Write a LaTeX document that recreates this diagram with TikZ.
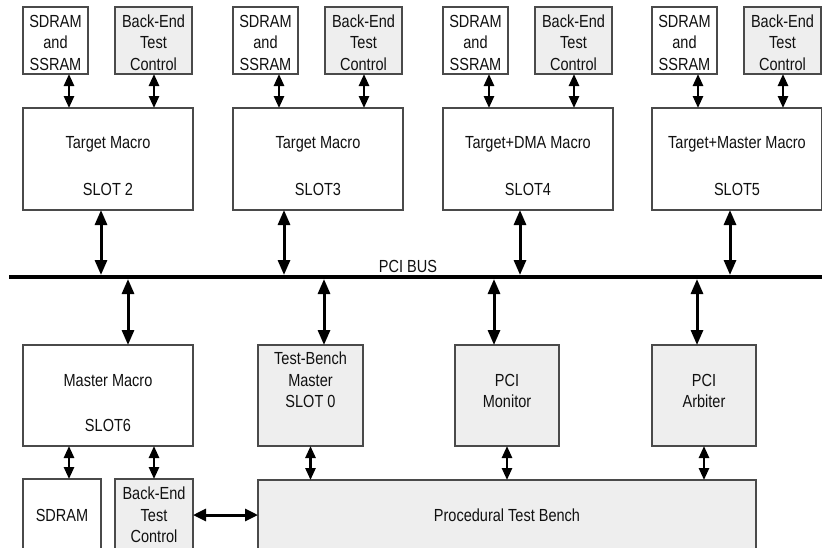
\documentclass[tikz,border=0pt]{standalone}
\usepackage{fontspec}
\setmainfont{Liberation Sans}[FakeStretch=0.83]
\usetikzlibrary{arrows.meta}
\definecolor{boxline}{HTML}{4A4A4A}
\definecolor{boxfill}{HTML}{EEEEEE}
\definecolor{textcol}{HTML}{111111}
\begin{document}
\begin{tikzpicture}[x=1pt,y=-1pt,
  box/.style={draw=boxline, line width=1.3pt, fill=white, anchor=north west, inner sep=0pt, outer sep=0pt},
  gbox/.style={box, fill=boxfill},
  txt/.style={font=\fontsize{17.5}{21.5}\selectfont, align=center, inner sep=0pt, text=textcol},
  link/.style={line width=2.6pt, {Triangle[width=10pt,length=12pt]}-{Triangle[width=10pt,length=12pt]}},
  buslink/.style={line width=3pt, {Triangle[width=12pt,length=15pt]}-{Triangle[width=12pt,length=15pt]}},
]
\clip (0,0) rectangle (822,547);
\fill[white] (0,0) rectangle (822,547);

% PCI bus
\coordinate (busL) at (9,277);
\coordinate (busR) at (823,277);
\draw[line width=4pt] (busL) -- (busR);
\node[txt] (buslabel) at (408,266) {PCI BUS};

% Target slots above the bus
\foreach \g/\dx/\ta/\tb/\bx in {2/0/Target Macro/SLOT 2/101, 3/210/Target Macro/SLOT3/284, 4/420/Target+DMA Macro/SLOT4/520, 5/629/Target+Master Macro/SLOT5/730}{
  \node[box, minimum width=65pt, minimum height=67pt] (mem\g) at (23+\dx,7) {};
  \node[txt] (memt\g) at (55.5+\dx,42.5) {SDRAM\\and\\SSRAM};
  \node[gbox, minimum width=77pt, minimum height=67pt] (bet\g) at (115+\dx,7) {};
  \node[txt] (bett\g) at (153.5+\dx,42.5) {Back-End\\Test\\Control};
  \node[box, minimum width=170pt, minimum height=102pt] (tgt\g) at (23+\dx,108) {};
  \node[txt] (tgta\g) at (108+\dx,144) {\ta};
  \node[txt] (tgtb\g) at (108+\dx,189) {\tb};
  \draw[link] ([xshift=13.5pt]mem\g.south) -- ([xshift=-39pt]tgt\g.north);
  \draw[link] ([xshift=0.5pt]bet\g.south) -- ([xshift=46pt]tgt\g.north);
  \coordinate (tap\g) at (\bx,275);
  \draw[buslink] (tgt\g.south -| tap\g) -- (tap\g);
}

% Blocks below the bus
\node[box, minimum width=170pt, minimum height=101pt] (mst) at (23,345) {};
\node[txt] (msta) at (108,381) {Master Macro};
\node[txt] (mstb) at (108,425) {SLOT6};
\node[gbox, minimum width=105pt, minimum height=101pt] (tbm) at (258,345) {};
\node[txt] (tbmt) at (310.5,380) {Test-Bench\\Master\\SLOT 0};
\node[gbox, minimum width=104pt, minimum height=101pt] (mon) at (455,345) {};
\node[txt] (mont) at (507,391) {PCI\\Monitor};
\node[gbox, minimum width=104pt, minimum height=101pt] (arb) at (652,345) {};
\node[txt] (arbt) at (704,391) {PCI\\Arbiter};

\coordinate (tapm) at (128,279);
\coordinate (tapt) at (324,279);
\coordinate (tapo) at (494,279);
\coordinate (tapa) at (697,279);
\draw[buslink] (tapm) -- (mst.north -| tapm);
\draw[buslink] (tapt) -- (tbm.north -| tapt);
\draw[buslink] (tapo) -- (mon.north -| tapo);
\draw[buslink] (tapa) -- (arb.north -| tapa);

% Memory, back-end control and procedural test bench
\node[box, minimum width=78pt, minimum height=100pt] (sdr) at (23,479) {};
\node[txt] (sdrt) at (62,515) {SDRAM};
\node[gbox, minimum width=78pt, minimum height=100pt] (bec) at (115,479) {};
\node[txt] (bect) at (154,515) {Back-End\\Test\\Control};
\node[gbox, minimum width=498pt, minimum height=100pt] (ptb) at (258,480) {};
\node[txt] (ptbt) at (507,515) {Procedural Test Bench};

\draw[link] ([xshift=7pt]sdr.north) -- ([xshift=-39pt]mst.south);
\draw[link] (bec.north) -- ([xshift=46pt]mst.south);
\draw[link] (ptb.north -| tbm.south) -- (tbm.south);
\draw[link] (ptb.north -| mon.south) -- (mon.south);
\draw[link] (ptb.north -| arb.south) -- (arb.south);
\draw[buslink, {Triangle[width=12pt,length=13pt]}-{Triangle[width=12pt,length=13pt]}] (bec.east |- sdrt) -- (ptb.west |- sdrt);
\end{tikzpicture}
\end{document}
